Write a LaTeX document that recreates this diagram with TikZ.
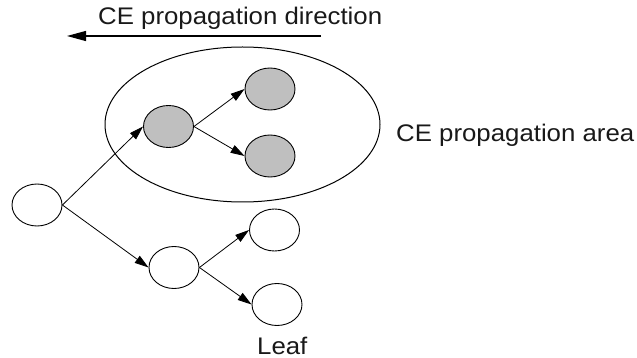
\documentclass[tikz,border=0pt]{standalone}
\usepackage{fontspec}
\setmainfont{Liberation Sans}[FakeStretch=1.075]
\usetikzlibrary{shapes.geometric,arrows.meta}
\begin{document}
\begin{tikzpicture}[x=1pt,y=-1pt,
  vertex/.style={draw, ellipse, inner sep=0pt, line width=0.9pt,
                 minimum width=50pt, minimum height=42pt, fill=white},
  active/.style={vertex, fill=black!25},
  link/.style={line width=0.8pt, -{Triangle[length=14pt,width=8.5pt]}},
  label/.style={anchor=base west, inner sep=0pt, text=black!90,
                font=\fontsize{24}{28}\selectfont}]
  \useasboundingbox (0,0) rectangle (637,358);

  % propagation area
  \node[draw, ellipse, inner sep=0pt, line width=1pt,
        minimum width=275pt, minimum height=155pt] (area) at (242.5,124.5) {};

  % tree nodes
  \node[vertex] (root) at (37,205) {};
  \node[active] (mid)  at (168.5,126.5) {};
  \node[active] (gtop) at (270,89) {};
  \node[active] (gbot) at (270,156) {};
  \node[vertex] (lmid) at (174,267.5) {};
  \node[vertex] (leafA) at (274.5,230) {};
  \node[vertex] (leafB) at (277,304.5) {};

  % edges
  \draw[link] (root.east) -- (mid.west);
  \draw[link] (mid.east) -- (gtop.west);
  \draw[link] (mid.east) -- (gbot.west);
  \draw[link] (root.east) -- (lmid.west);
  \draw[link] (lmid.east) -- (leafA.west);
  \draw[link] (lmid.east) -- (leafB.west);

  % direction arrow
  \coordinate (dirS) at (321,36);
  \coordinate (dirE) at (67,36);
  \draw[line width=1.2pt, -{Triangle[length=19pt,width=10pt]}] (dirS) -- (dirE);

  % labels
  \node[label] (dirtext) at (98,25) {CE propagation direction};
  \node[label] (areatext) at (396,142) {CE propagation area};
  \node[label] (leaftext) at (257,354) {Leaf};
\end{tikzpicture}
\end{document}
